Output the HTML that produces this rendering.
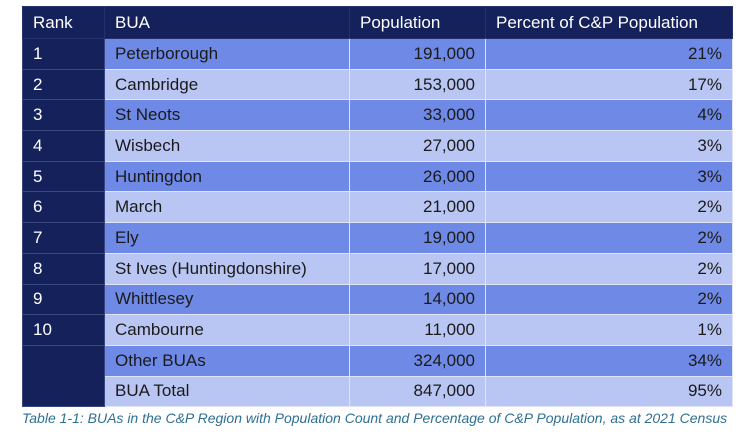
<!DOCTYPE html>
<html><head><style>
body{margin:0;width:749px;height:434px;background:#fff;overflow:hidden;font-family:"Liberation Sans",sans-serif;}
table{position:absolute;left:22px;top:6px;border-collapse:collapse;font-size:17px;color:#1a1a1a;}
td,th{height:29.7px;padding:0 10px;border:1px solid #dfe5f7;font-weight:normal;white-space:nowrap;}
th{background:#14215a;color:#fff;text-align:left;height:31px;border-color:#243170;}
.r{background:#14215a;color:#fff;border-color:#3a4680;}
.d td:not(.r){background:#6f8ae6;}
.l td:not(.r){background:#b9c6f3;}
.n{text-align:right;}
.cap{position:absolute;left:22px;top:410px;font-size:14px;font-style:italic;color:#2f6f93;white-space:nowrap;}
</style></head><body>
<table>
<colgroup><col style="width:82px"><col style="width:245px"><col style="width:136px"><col style="width:247px"></colgroup>
<tr><th>Rank</th><th>BUA</th><th>Population</th><th>Percent of C&amp;P Population</th></tr>
<tr class="d"><td class="r">1</td><td>Peterborough</td><td class="n">191,000</td><td class="n">21%</td></tr>
<tr class="l"><td class="r">2</td><td>Cambridge</td><td class="n">153,000</td><td class="n">17%</td></tr>
<tr class="d"><td class="r">3</td><td>St Neots</td><td class="n">33,000</td><td class="n">4%</td></tr>
<tr class="l"><td class="r">4</td><td>Wisbech</td><td class="n">27,000</td><td class="n">3%</td></tr>
<tr class="d"><td class="r">5</td><td>Huntingdon</td><td class="n">26,000</td><td class="n">3%</td></tr>
<tr class="l"><td class="r">6</td><td>March</td><td class="n">21,000</td><td class="n">2%</td></tr>
<tr class="d"><td class="r">7</td><td>Ely</td><td class="n">19,000</td><td class="n">2%</td></tr>
<tr class="l"><td class="r">8</td><td>St Ives (Huntingdonshire)</td><td class="n">17,000</td><td class="n">2%</td></tr>
<tr class="d"><td class="r">9</td><td>Whittlesey</td><td class="n">14,000</td><td class="n">2%</td></tr>
<tr class="l"><td class="r">10</td><td>Cambourne</td><td class="n">11,000</td><td class="n">1%</td></tr>
<tr class="d"><td class="r" rowspan="2"></td><td>Other BUAs</td><td class="n">324,000</td><td class="n">34%</td></tr>
<tr class="l"><td>BUA Total</td><td class="n">847,000</td><td class="n">95%</td></tr>
</table>
<div class="cap">Table 1-1: BUAs in the C&amp;P Region with Population Count and Percentage of C&amp;P Population, as at 2021 Census</div>
</body></html>
